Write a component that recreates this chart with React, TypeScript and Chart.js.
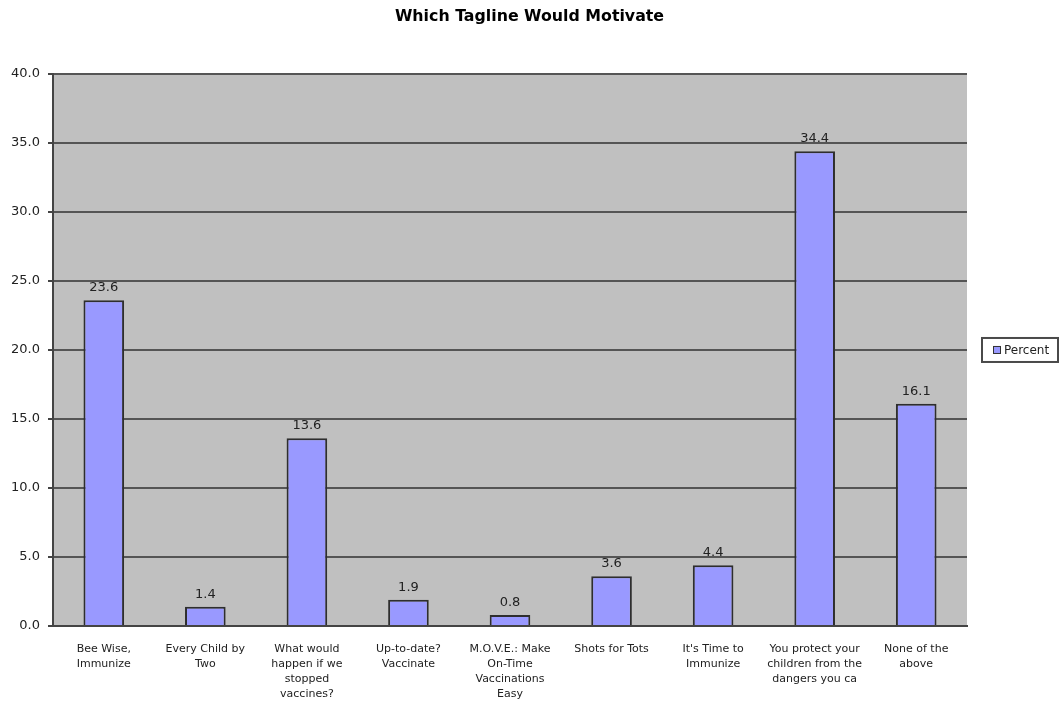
import React, { useEffect, useRef } from "react";
import { Chart, registerables } from "chart.js";

Chart.register(...registerables);

const chartTitle = "Which Tagline Would Motivate";
const seriesLabel = "Percent";
const categories: string[][] = [
  ["Bee Wise,", "Immunize"],
  ["Every Child by", "Two"],
  ["What would", "happen if we", "stopped", "vaccines?"],
  ["Up-to-date?", "Vaccinate"],
  ["M.O.V.E.: Make", "On-Time", "Vaccinations", "Easy"],
  ["Shots for Tots"],
  ["It's Time to", "Immunize"],
  ["You protect your", "children from the", "dangers you ca"],
  ["None of the", "above"],
];
const percentValues = [23.6, 1.4, 13.6, 1.9, 0.8, 3.6, 4.4, 34.4, 16.1];
const yMin = 0;
const yMax = 40;
const yStep = 5;

const FONT = "'DejaVu Sans', 'Liberation Sans', Arial, sans-serif";
const BAR_FILL = "#9999ff";
const BAR_BORDER = "#2e2e2e";

const plotBackground = {
  id: "plotBackground",
  beforeDraw(chart: any) {
    const { ctx, chartArea } = chart;
    ctx.save();
    ctx.fillStyle = "#c0c0c0";
    ctx.fillRect(chartArea.left, chartArea.top, chartArea.right - chartArea.left, chartArea.bottom - chartArea.top);
    ctx.restore();
  },
};

const valueLabels = {
  id: "valueLabels",
  afterDatasetsDraw(chart: any) {
    const { ctx } = chart;
    const meta = chart.getDatasetMeta(0);
    const data = chart.data.datasets[0].data as number[];
    ctx.save();
    ctx.font = `13px ${FONT}`;
    ctx.fillStyle = "#222";
    ctx.textAlign = "center";
    ctx.textBaseline = "alphabetic";
    meta.data.forEach((bar: any, i: number) => {
      ctx.fillText(data[i].toFixed(1), bar.x, bar.y - 9);
    });
    ctx.restore();
  },
};

const boxedLegend = {
  id: "boxedLegend",
  afterDraw(chart: any) {
    const { ctx, chartArea } = chart;
    const ds = chart.data.datasets[0];
    const cy = (chartArea.top + chartArea.bottom) / 2;
    const x = chartArea.right + 15;
    const w = 76;
    const h = 24;
    ctx.save();
    ctx.fillStyle = "#ffffff";
    ctx.fillRect(x, cy - h / 2, w, h);
    ctx.strokeStyle = "#4a4a4a";
    ctx.lineWidth = 2;
    ctx.strokeRect(x, cy - h / 2, w, h);
    ctx.fillStyle = ds.backgroundColor;
    ctx.fillRect(x + 11, cy - 4, 8, 8);
    ctx.strokeStyle = "#333";
    ctx.lineWidth = 1;
    ctx.strokeRect(x + 11.5, cy - 3.5, 7, 7);
    ctx.font = `12px ${FONT}`;
    ctx.fillStyle = "#222";
    ctx.textAlign = "left";
    ctx.textBaseline = "middle";
    ctx.fillText(ds.label, x + 22, cy + 1);
    ctx.restore();
  },
};

export default function App() {
  const canvasRef = useRef<HTMLCanvasElement | null>(null);

  useEffect(() => {
    if (!canvasRef.current) return;
    const chart = new Chart(canvasRef.current, {
      type: "bar",
      data: {
        labels: categories,
        datasets: [
          {
            label: seriesLabel,
            data: percentValues,
            backgroundColor: BAR_FILL,
            borderColor: BAR_BORDER,
            borderWidth: 2,
            barPercentage: 0.4,
            categoryPercentage: 1,
          },
        ],
      },
      options: {
        responsive: false,
        animation: false,
        layout: { padding: 0 },
        plugins: {
          legend: { display: false },
          tooltip: { enabled: false },
          title: {
            display: true,
            text: chartTitle,
            color: "#000",
            font: { family: FONT, size: 15.8, weight: "bold", lineHeight: 1.2 },
            padding: { top: 7, bottom: 48 },
          },
        },
        scales: {
          x: {
            grid: { display: false, drawTicks: false },
            border: { display: true, color: "#444", width: 2 },
            ticks: {
              autoSkip: false,
              maxRotation: 0,
              minRotation: 0,
              padding: 16,
              color: "#222",
              font: { family: FONT, size: 11, lineHeight: 1.36 },
            },
            afterFit(scale: any) {
              scale.height = 76;
            },
          },
          y: {
            min: yMin,
            max: yMax,
            grid: {
              color: "#555",
              lineWidth: 2,
              drawTicks: true,
              tickLength: 5,
              tickColor: "#444",
            },
            border: { display: true, color: "#444", width: 2 },
            ticks: {
              stepSize: yStep,
              padding: 8,
              color: "#222",
              font: { family: FONT, size: 13 },
              callback: (v: any) => Number(v).toFixed(1),
            },
            afterFit(scale: any) {
              scale.width = 53;
            },
          },
          legendSpace: {
            type: "linear",
            position: "right",
            min: yMin,
            max: yMax,
            grid: { display: false, drawTicks: false },
            border: { display: false },
            ticks: { display: false },
            afterFit(scale: any) {
              scale.width = 92;
            },
          },
        },
      },
      plugins: [plotBackground, valueLabels, boxedLegend],
    });
    return () => chart.destroy();
  }, []);

  return (
    <div style={{ position: "absolute", left: 0, top: 0, width: 1059, height: 702, background: "#fff" }}>
      <canvas ref={canvasRef} width={1059} height={702} />
    </div>
  );
}
